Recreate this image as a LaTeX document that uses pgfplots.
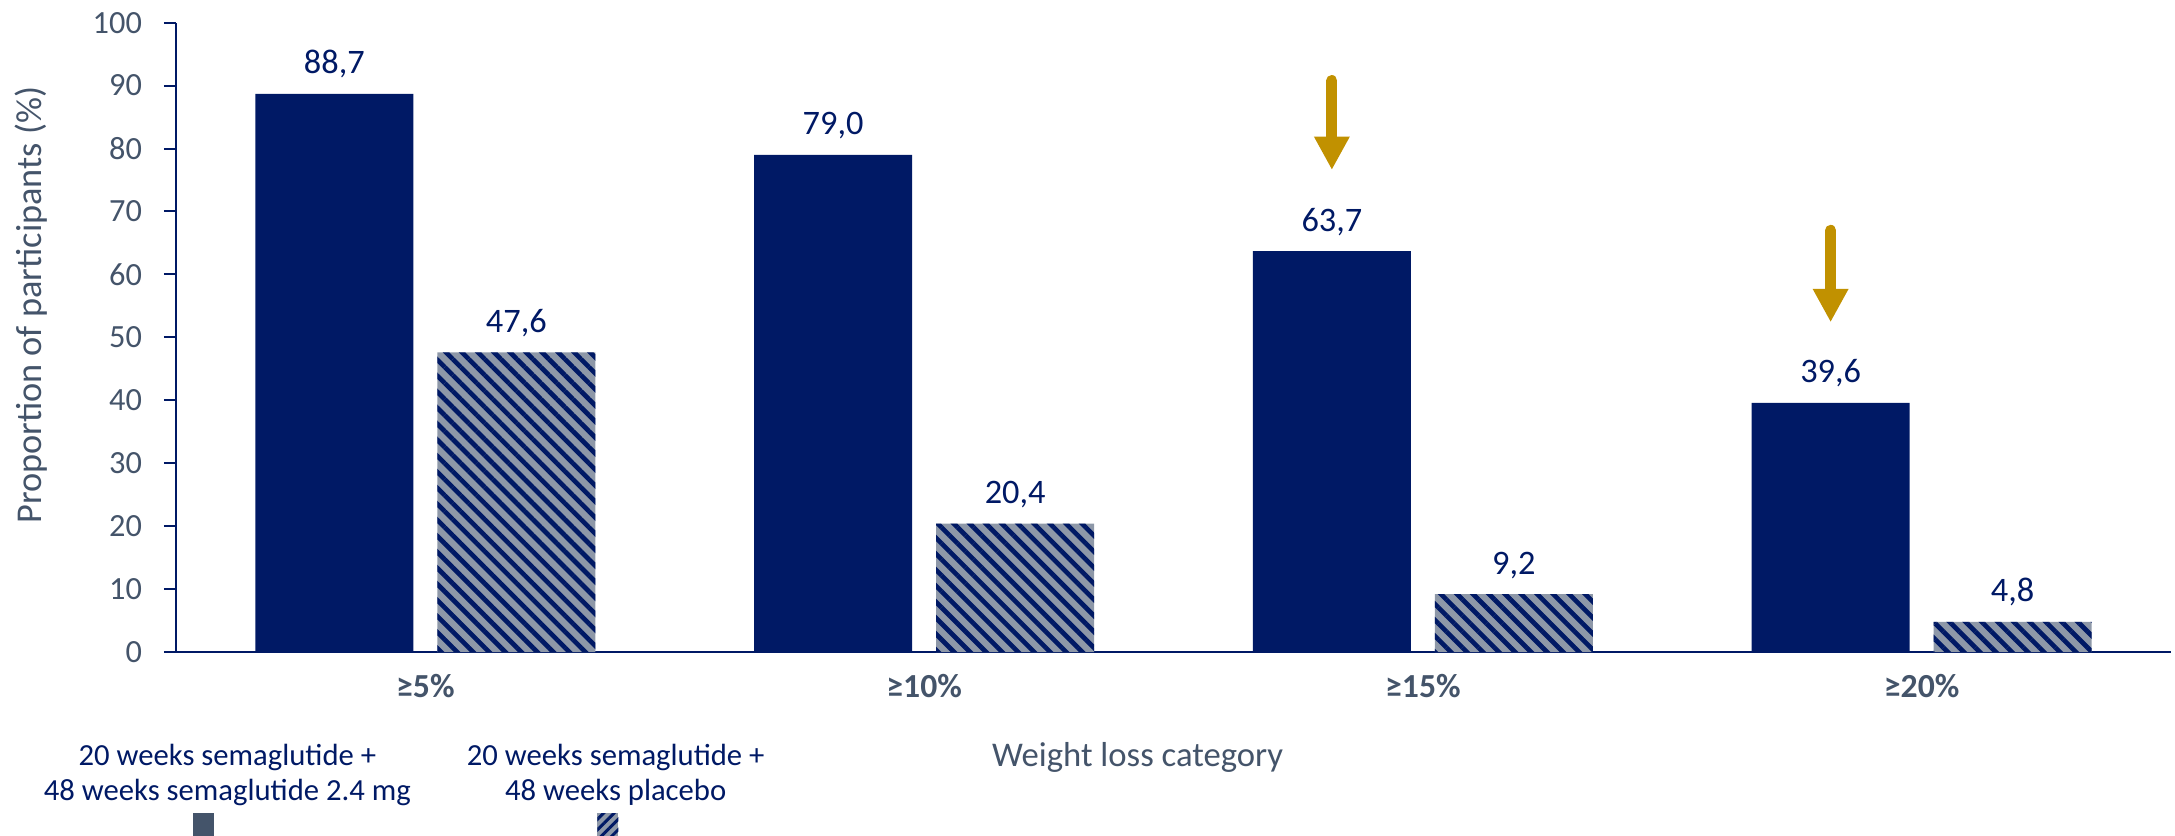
\documentclass[border=0pt]{standalone}
\usepackage{fontspec}
\setmainfont{Carlito}
\usepackage{pgfplots}
\pgfplotsset{compat=1.18}
\usepackage{pgfplotstable}
\usetikzlibrary{patterns.meta,arrows.meta}
\definecolor{navy}{HTML}{001965}
\definecolor{slate}{HTML}{44546A}
\definecolor{hgrey}{HTML}{8E98A8}
\definecolor{gold}{HTML}{C19100}

\pgfplotstableread{
x y lab
0 88.7 88,7
1 79.0 79,0
2 63.7 63,7
3 39.6 39,6
}\semadata
\pgfplotstableread{
x y lab
0 47.6 47,6
1 20.4 20,4
2 9.2 9,2
3 4.8 4,8
}\placdata

\begin{document}
\begin{tikzpicture}
\path[use as bounding box] (0,0) rectangle (652.5pt,-250.8pt);
\begin{axis}[
  at={(52.8pt,-195.6pt)}, anchor=south west,
  scale only axis, width=598.5pt, height=188.8pt,
  xmin=-0.5, xmax=3.5, ymin=0, ymax=100,
  axis x line*=bottom, axis y line*=left,
  axis line style={navy, line width=0.6pt, -},
  ytick={0,10,...,100},
  tick align=outside, major tick length=3.6pt,
  ytick style={navy, line width=0.6pt},
  xtick={0,1,2,3},
  xtick style={draw=none},
  xticklabels={\textbf{≥5\%},\textbf{≥10\%},\textbf{≥15\%},\textbf{≥20\%}},
  /pgf/number format/assume math mode=true,
  yticklabel style={font=\fontsize{9.7}{11}\selectfont, text=slate, xshift=-3.1pt},
  xticklabel style={font=\fontsize{10.1}{12}\selectfont, text=slate, anchor=base, yshift=-9.9pt},
  xlabel={Weight loss category},
  every axis x label/.style={at={(axis description cs:0.482,0)}, anchor=base, yshift=-34.2pt, font=\fontsize{10.4}{12}\selectfont, text=slate},
  ylabel={Proportion of participants (\%)},
  every axis y label/.style={at={(axis description cs:-0.0727,0.551)}, rotate=90, anchor=center, font=\fontsize{10.9}{12}\selectfont, text=slate},
  ybar, bar width=47.4pt,
  point meta=explicit symbolic,
  nodes near coords,
  every node near coord/.append style={font=\fontsize{10.3}{12}\selectfont, text=navy, anchor=base, yshift=6pt},
  clip=false,
]
\addplot[bar shift=-27.3pt, fill=navy, draw=none] table[x=x, y=y, meta=lab] {\semadata};
\addplot[bar shift=27.3pt, fill=hgrey, draw=none,
  postaction={pattern={Lines[angle=-45,distance=3.4pt,line width=1.4pt]}, pattern color=navy}]
  table[x=x, y=y, meta=lab] {\placdata};
\draw[gold, line width=3.3pt, line cap=round, -{Triangle[width=10pt,length=10pt]}] (axis cs:1.8175,90.8) -- (axis cs:1.8175,76.6);
\draw[gold, line width=3.3pt, line cap=round, -{Triangle[width=10pt,length=10pt]}] (axis cs:2.8175,67.0) -- (axis cs:2.8175,52.4);
\end{axis}
\node[anchor=base, font=\fontsize{9.2}{10}\selectfont, text=navy] at (68.2pt,-229.5pt) {20 weeks semaglutide +};
\node[anchor=base, font=\fontsize{9.2}{10}\selectfont, text=navy] at (68.2pt,-240pt) {48 weeks semaglutide 2.4 mg};
\fill[slate] (58pt,-243.9pt) rectangle (64.3pt,-252pt);
\node[anchor=base, font=\fontsize{9.2}{10}\selectfont, text=navy] at (184.7pt,-229.5pt) {20 weeks semaglutide +};
\node[anchor=base, font=\fontsize{9.2}{10}\selectfont, text=navy] at (184.7pt,-240pt) {48 weeks placebo};
\fill[hgrey] (179.2pt,-243.9pt) rectangle (185.5pt,-252pt);
\fill[pattern={Lines[angle=45,distance=2.2pt,line width=0.9pt]}, pattern color=navy] (179.2pt,-243.9pt) rectangle (185.5pt,-252pt);
\end{tikzpicture}
\end{document}
